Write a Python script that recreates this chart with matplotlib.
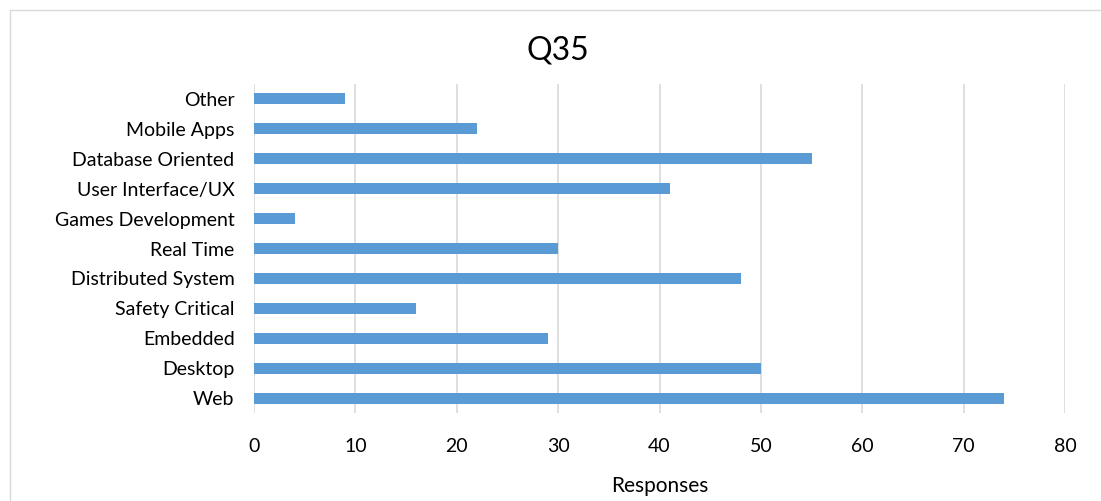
import matplotlib
matplotlib.use("Agg")
import matplotlib.pyplot as plt
from matplotlib.patches import Rectangle

categories = ["Web", "Desktop", "Embedded", "Safety Critical", "Distributed System",
              "Real Time", "Games Development", "User Interface/UX", "Database Oriented",
              "Mobile Apps", "Other"]
responses = [74, 50, 29, 16, 48, 30, 4, 41, 55, 22, 9]
x_ticks = [0, 10, 20, 30, 40, 50, 60, 70, 80]

plt.rcParams['font.family'] = ['Lato', 'DejaVu Sans']

W, H = 1101, 501
fig = plt.figure(figsize=(W / 100, H / 100), dpi=100)
fig.patch.set_facecolor("white")

# outer chart-area border
fig.patches.append(Rectangle((10 / W, -0.01), 1.0, 1 - 10 / H + 0.01,
                             transform=fig.transFigure, fill=False,
                             edgecolor="#d9d9d9", linewidth=1.0))

left, right = 254 / W, 1065 / W
top, bottom = 1 - 84 / H, 1 - 413 / H
ax = fig.add_axes([left, bottom, right - left, top - bottom])

ypos = list(range(len(categories)))
ax.barh(ypos, responses, height=0.37, color="#5b9bd5", zorder=3)

ax.set_xlim(0, 80)
ax.set_ylim(-0.5, len(categories) - 0.5)
ax.set_xticks(x_ticks)
ax.set_xticklabels([str(t) for t in x_ticks])
ax.set_yticks(ypos)
ax.set_yticklabels(categories)

ax.xaxis.grid(True, color="#d9d9d9", linewidth=1.2, zorder=0)
ax.set_axisbelow(True)
for s in ax.spines.values():
    s.set_visible(False)
ax.tick_params(axis="both", length=0, labelsize=14, colors="black")
ax.tick_params(axis="x", pad=18)
ax.tick_params(axis="y", pad=14)

ax.set_xlabel("Responses", fontsize=15, labelpad=15)
fig.text(558 / W, 1 - 50 / H, "Q35", ha="center", va="center", fontsize=23)

fig.savefig("out.png", dpi=100, facecolor="white")
